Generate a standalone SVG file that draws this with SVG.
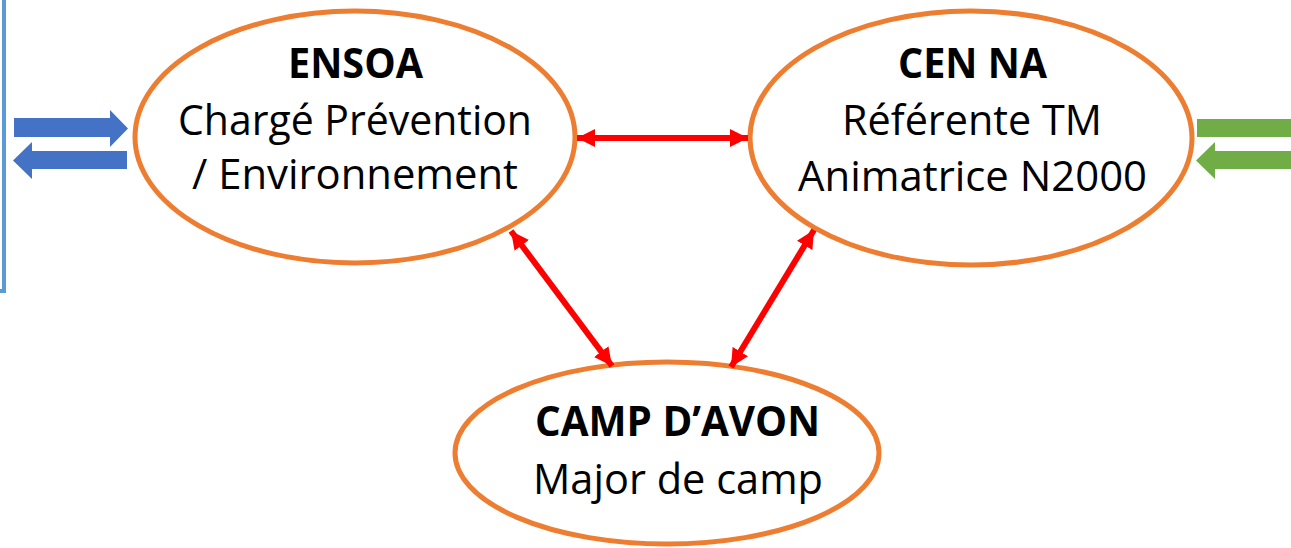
<svg xmlns="http://www.w3.org/2000/svg" width="1291" height="548" viewBox="0 0 1291 548">
<style>
.node{fill:#FFFFFF;stroke:#ED7D31;stroke-width:5}
.t{font-family:"Open Sans","Noto Sans",sans-serif;font-size:42px;fill:#000000;text-anchor:middle}
.b{font-weight:bold}
.link{stroke:#FF0000;stroke-width:6;fill:none;marker-start:url(#ah);marker-end:url(#ah)}
</style>
<defs>
<marker id="ah" viewBox="0 0 10 10" refX="10" refY="5" markerWidth="18" markerHeight="18" markerUnits="userSpaceOnUse" orient="auto-start-reverse">
<path d="M0,0 L10,5 L0,10 Z" fill="#FF0000"/>
</marker>
</defs>
<g id="frame">
<path d="M4,0 L4,291 L0,291" fill="none" stroke="#5B9BD5" stroke-width="4"/>
</g>
<g id="blue-arrows" fill="#4472C4">
<polygon points="14,118 110,118 110,110 128,128.5 110,147 110,137 14,137"/>
<polygon points="127,151 32,151 32,142 13,160.5 32,179 32,169 127,169"/>
</g>
<g id="green-arrows" fill="#70AD47">
<rect x="1197" y="119" width="94" height="18"/>
<polygon points="1291,151 1215,151 1215,142 1196,160.5 1215,179 1215,169 1291,169"/>
</g>
<g id="ensoa">
<ellipse class="node" cx="355" cy="137" rx="220" ry="126"/>
<text class="t b" x="355.5" y="78" textLength="135" lengthAdjust="spacingAndGlyphs">ENSOA</text>
<text class="t" x="355" y="135" textLength="354" lengthAdjust="spacingAndGlyphs">Chargé Prévention</text>
<text class="t" x="355" y="189" textLength="326" lengthAdjust="spacingAndGlyphs">/ Environnement</text>
</g>
<g id="cenna">
<ellipse class="node" cx="971" cy="138" rx="221" ry="127"/>
<text class="t b" x="972.5" y="78" textLength="149" lengthAdjust="spacingAndGlyphs">CEN NA</text>
<text class="t" x="972" y="135" textLength="260" lengthAdjust="spacingAndGlyphs">Référente TM</text>
<text class="t" x="972.5" y="191" textLength="349" lengthAdjust="spacingAndGlyphs">Animatrice N2000</text>
</g>
<g id="camp">
<ellipse class="node" cx="667" cy="453" rx="212" ry="91"/>
<text class="t b" x="677.5" y="436" textLength="285" lengthAdjust="spacingAndGlyphs">CAMP D’AVON</text>
<text class="t" x="678" y="494" textLength="290" lengthAdjust="spacingAndGlyphs">Major de camp</text>
</g>
<g id="connectors">
<line class="link" x1="577" y1="138" x2="748" y2="138"/>
<line class="link" x1="511" y1="231" x2="612" y2="366"/>
<line class="link" x1="814" y1="230" x2="731" y2="367"/>
</g>
</svg>
